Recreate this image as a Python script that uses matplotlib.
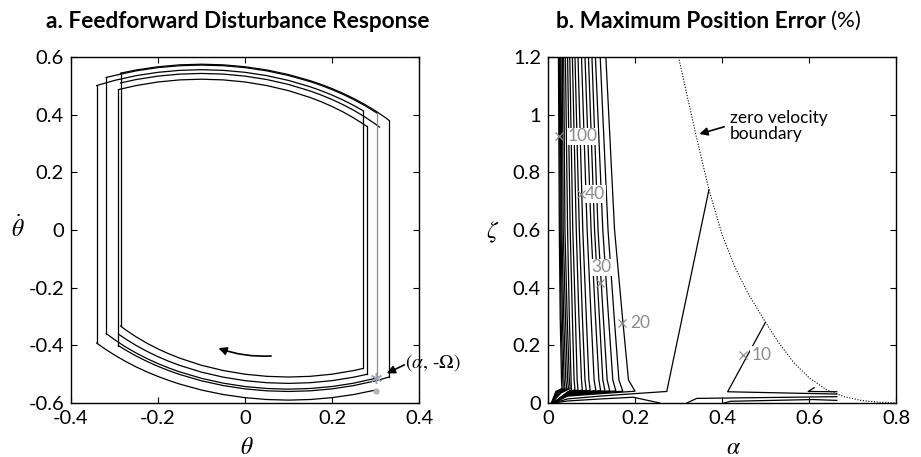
import matplotlib
matplotlib.use("Agg")
import matplotlib.pyplot as plt

plt.rcParams['font.family'] = ['Lato', 'DejaVu Sans']
plt.rcParams['mathtext.fontset'] = 'stix'
plt.rcParams['axes.unicode_minus'] = False

# ---------------- panel a data: phase-plane trajectory pieces ----------------
top_theta_mid = [-0.25, -0.2, -0.15, -0.1, -0.05, 0.0, 0.05, 0.1, 0.15, 0.175, 0.2, 0.225, 0.25]

t1_theta = [-0.286] + top_theta_mid + [0.275, 0.3, 0.325, 0.332]
t1_rate = [0.544, 0.5551, 0.5662, 0.5728, 0.575, 0.5728, 0.5662, 0.5551, 0.5391, 0.5178,
           0.5050, 0.4905, 0.4743, 0.4562, 0.4359, 0.4131, 0.3873, 0.379]
t2_theta = [-0.319, -0.3] + top_theta_mid + [0.275, 0.3, 0.303]
t2_rate = [0.529, 0.5359, 0.5520, 0.5632, 0.5698, 0.572, 0.5698, 0.5632, 0.5520, 0.5359,
           0.5145, 0.5016, 0.4870, 0.4707, 0.4524, 0.4319, 0.4089, 0.406]
t3_theta = [-0.341, -0.3] + top_theta_mid + [0.272]
t3_rate = [0.501, 0.5188, 0.5354, 0.5469, 0.5537, 0.556, 0.5537, 0.5469, 0.5354, 0.5188,
           0.4966, 0.4832, 0.4681, 0.4511, 0.4320, 0.4132]
t4_theta = [-0.286] + top_theta_mid + [0.275, 0.3, 0.309]
t4_rate = [0.510, 0.5219, 0.5337, 0.5407, 0.543, 0.5407, 0.5337, 0.5219, 0.5048, 0.4820,
           0.4682, 0.4526, 0.4350, 0.4152, 0.3927, 0.3672, 0.357]
t5_theta = [-0.291] + top_theta_mid + [0.275, 0.280]
t5_rate = [0.487, 0.5010, 0.5134, 0.5206, 0.523, 0.5206, 0.5134, 0.5010, 0.4833, 0.4594,
           0.4449, 0.4284, 0.4098, 0.3886, 0.3646, 0.3594]

bot_theta_mid = [-0.275, -0.25, -0.225, -0.2, -0.175, -0.15, -0.1, -0.05, 0.0, 0.05, 0.1, 0.15, 0.2, 0.25]

b1_theta = [-0.286] + bot_theta_mid + [0.272]
b1_rate = [-0.333, -0.3457, -0.3709, -0.3930, -0.4124, -0.4295, -0.4445, -0.4692, -0.4874,
           -0.5001, -0.5075, -0.510, -0.5075, -0.5001, -0.4874, -0.4801]
b2_theta = [-0.291] + bot_theta_mid + [0.280]
b2_rate = [-0.361, -0.3774, -0.4007, -0.4212, -0.4394, -0.4554, -0.4696, -0.4930, -0.5104,
           -0.5225, -0.5296, -0.532, -0.5296, -0.5225, -0.5104, -0.5006]
b3_theta = [-0.319, -0.3] + bot_theta_mid + [0.303]
b3_rate = [-0.359, -0.3804, -0.4051, -0.4269, -0.4462, -0.4634, -0.4786, -0.4921, -0.5145,
           -0.5312, -0.5429, -0.5497, -0.552, -0.5497, -0.5429, -0.5312, -0.5133]
b4_theta = [-0.291] + bot_theta_mid + [0.3, 0.332]
b4_rate = [-0.401, -0.4159, -0.4372, -0.4560, -0.4729, -0.4878, -0.5011, -0.5231, -0.5395,
           -0.5510, -0.5578, -0.560, -0.5578, -0.5510, -0.5395, -0.5231, -0.5097]
b5_theta = [-0.341, -0.325, -0.3] + bot_theta_mid + [0.3]
b5_rate = [-0.392, -0.4092, -0.4337, -0.4555, -0.4750, -0.4924, -0.5080, -0.5220, -0.5344,
           -0.5551, -0.5706, -0.5815, -0.5879, -0.590, -0.5879, -0.5815, -0.5706, -0.5551]

jump_left_theta = [-0.341, -0.319, -0.291, -0.286]
jump_left_low = [-0.392, -0.359, -0.401, -0.333]
jump_left_high = [0.501, 0.529, 0.487, 0.544]
jump_right_theta = [0.272, 0.280, 0.303, 0.332]
jump_right_high = [0.413, 0.359, 0.406, 0.379]
jump_right_low = [-0.480, -0.501, -0.513, -0.510]
jump_right_gray = [False, False, True, False]

start_point = (0.300, -0.512)
end_point = (0.300, -0.558)

a_xticks = [-0.4, -0.2, 0, 0.2, 0.4]
a_xlabels = ['-0.4', '-0.2', '0', '0.2', '0.4']
a_yticks = [-0.6, -0.4, -0.2, 0, 0.2, 0.4, 0.6]
a_ylabels = ['-0.6', '-0.4', '-0.2', '0', '0.2', '0.4', '0.6']

# ---------------- panel b data: contour lines of max position error ----------------
band_top = [0.024, 0.026, 0.028, 0.030, 0.033, 0.036]
band_06 = [0.026, 0.028, 0.030, 0.032, 0.035, 0.039]
band_03 = [0.028, 0.030, 0.033, 0.036, 0.040, 0.044]
band_008 = [0.031, 0.034, 0.037, 0.041, 0.045, 0.049]
band_knee = [0.032, 0.035, 0.039, 0.043, 0.047, 0.051]
band_tail_a = [0.018, 0.020, 0.022, 0.025, 0.028, 0.030]
band_tail_z = [0.040, 0.039, 0.038, 0.037, 0.036, 0.035]

fan_top = [0.040, 0.045, 0.050, 0.056, 0.062, 0.069, 0.077, 0.085, 0.093, 0.101, 0.109, 0.120, 0.133]
fan_06 = [0.045, 0.051, 0.057, 0.065, 0.072, 0.080, 0.090, 0.099, 0.107, 0.115, 0.126, 0.138, 0.153]
fan_03 = [0.049, 0.056, 0.063, 0.071, 0.079, 0.088, 0.099, 0.109, 0.118, 0.127, 0.139, 0.152, 0.171]
fan_008 = [0.053, 0.060, 0.067, 0.077, 0.085, 0.094, 0.106, 0.117, 0.126, 0.136, 0.149, 0.163, 0.185]
fan_knee = [0.054, 0.062, 0.069, 0.079, 0.088, 0.097, 0.110, 0.121, 0.131, 0.142, 0.156, 0.172, 0.200]
fan_knee_z = [0.046, 0.046, 0.045, 0.045, 0.044, 0.044, 0.043, 0.043, 0.042, 0.042, 0.042, 0.041, 0.041]
fan_tail_z = [0.038, 0.037, 0.036, 0.035, 0.034, 0.033, 0.032, 0.031, 0.030, 0.029, 0.028, 0.026, 0.024]
tail_alpha = 0.045
origin_pt = (0.012, 0.0)

extra_alpha = [
    [0.370, 0.273, 0.204, 0.120, 0.045, 0.012],
    [0.257, 0.196, 0.120, 0.045, 0.012],
    [0.500, 0.413, 0.664],
    [0.319, 0.342, 0.664],
    [0.405, 0.420, 0.610, 0.664],
    [0.612, 0.598, 0.664],
]
extra_zeta = [
    [0.740, 0.040, 0.033, 0.024, 0.014, 0.0],
    [0.0, 0.020, 0.014, 0.007, 0.0],
    [0.280, 0.039, 0.031],
    [0.0, 0.016, 0.022],
    [0.0, 0.006, 0.012, 0.009],
    [0.053, 0.040, 0.039],
]

boundary_alpha = [0.300, 0.340, 0.370, 0.400, 0.430, 0.460, 0.500, 0.530, 0.565, 0.600, 0.640, 0.680, 0.720, 0.760, 0.800]
boundary_zeta = [1.200, 0.930, 0.740, 0.585, 0.470, 0.380, 0.280, 0.210, 0.140, 0.088, 0.046, 0.022, 0.009, 0.003, 0.000]

clabel_text = ['100', '40', '30', '20', '10']
clabel_mark = [(0.026, 0.925), (0.075, 0.725), (0.1195, 0.415), (0.171, 0.279), (0.449, 0.166)]
clabel_pos = [(0.045, 0.925), (0.085, 0.725), (0.100, 0.470), (0.188, 0.279), (0.467, 0.166)]

b_xticks = [0, 0.2, 0.4, 0.6, 0.8]
b_xlabels = ['0', '0.2', '0.4', '0.6', '0.8']
b_yticks = [0, 0.2, 0.4, 0.6, 0.8, 1.0, 1.2]
b_ylabels = ['0', '0.2', '0.4', '0.6', '0.8', '1', '1.2']

# ---------------- figure ----------------
W, H = 921, 457
fig = plt.figure(figsize=(W / 100, H / 100), dpi=100)
ax1 = fig.add_axes([71 / W, 1 - 403 / H, 348 / W, 346 / H])
ax2 = fig.add_axes([548 / W, 1 - 403 / H, 348 / W, 346 / H])

LW = 0.9
for th, r in [(t1_theta, t1_rate), (t2_theta, t2_rate), (t3_theta, t3_rate),
              (t4_theta, t4_rate), (t5_theta, t5_rate),
              (b1_theta, b1_rate), (b2_theta, b2_rate), (b3_theta, b3_rate),
              (b4_theta, b4_rate), (b5_theta, b5_rate)]:
    ax1.plot(th, r, color='black', lw=LW)
for th, lo, hi in zip(jump_left_theta, jump_left_low, jump_left_high):
    ax1.plot([th, th], [lo, hi], color='black', lw=LW)
for th, hi, lo, g in zip(jump_right_theta, jump_right_high, jump_right_low, jump_right_gray):
    ax1.plot([th, th], [hi, lo], color='#8a8a8a' if g else 'black', lw=LW)

ax1.plot(*end_point, 'o', color='#b4b4b4', ms=4.5, mec='none')
ax1.plot(*start_point, marker=(6, 2, 0), color='#a0a0b8', ms=8, mew=1.0)

ax1.annotate('', xy=(-0.061, -0.410), xytext=(0.060, -0.437),
             arrowprops=dict(arrowstyle='-|>', color='black', lw=1.2,
                             mutation_scale=12, connectionstyle='arc3,rad=-0.1',
                             shrinkA=0, shrinkB=0))
ax1.annotate('', xy=(0.326, -0.497), xytext=(0.366, -0.468),
             arrowprops=dict(arrowstyle='-|>', color='black', lw=1.2,
                             mutation_scale=12, shrinkA=0, shrinkB=0))
ax1.text(0.368, -0.46, r'($\alpha$, -Ω)', fontsize=14, family='STIXGeneral',
         ha='left', va='center', clip_on=False)

ax1.set_xlim(-0.4, 0.4)
ax1.set_ylim(-0.6, 0.6)
ax1.set_xticks(a_xticks)
ax1.set_xticklabels(a_xlabels)
ax1.set_yticks(a_yticks)
ax1.set_yticklabels(a_ylabels)

# panel b
for i in range(len(band_top)):
    ax2.plot([band_top[i], band_06[i], band_03[i], band_008[i], band_knee[i], band_tail_a[i], origin_pt[0] - 0.004],
             [1.2, 0.6, 0.3, 0.08, 0.05, band_tail_z[i], origin_pt[1]], color='black', lw=0.9)
for i in range(len(fan_top)):
    ax2.plot([fan_top[i], fan_06[i], fan_03[i], fan_008[i], fan_knee[i], tail_alpha, origin_pt[0]],
             [1.2, 0.6, 0.3, 0.08, fan_knee_z[i], fan_tail_z[i], origin_pt[1]], color='black', lw=0.9)
for xa, za in zip(extra_alpha, extra_zeta):
    ax2.plot(xa, za, color='black', lw=0.9)
ax2.plot(boundary_alpha, boundary_zeta, color='black', lw=0.8, ls=(0, (1, 1.5)))

for txt, mk, pos in zip(clabel_text, clabel_mark, clabel_pos):
    ax2.text(pos[0], pos[1], txt, color='#8c8c8c', fontsize=12.5, ha='left', va='center',
             bbox=dict(facecolor='white', edgecolor='none', pad=0.5), zorder=4)
    ax2.plot(*mk, marker='x', color='#8c8c8c', ms=6, mew=0.9, zorder=5)

ax2.annotate('', xy=(0.348, 0.933), xytext=(0.405, 0.958),
             arrowprops=dict(arrowstyle='-|>', color='black', lw=1.2,
                             mutation_scale=12, shrinkA=0, shrinkB=0))
ax2.text(0.418, 0.962, 'zero velocity\nboundary', fontsize=12.5, ha='left', va='center',
         linespacing=1.0)

ax2.set_xlim(0, 0.8)
ax2.set_ylim(0, 1.2)
ax2.set_xticks(b_xticks)
ax2.set_xticklabels(b_xlabels)
ax2.set_yticks(b_yticks)
ax2.set_yticklabels(b_ylabels)

for ax in (ax1, ax2):
    ax.tick_params(direction='in', top=True, right=True, length=4, width=0.8,
                   labelsize=14.5, pad=5)
    for s in ax.spines.values():
        s.set_linewidth(1.0)

# labels and titles
fig.text(246.7 / W, 1 - 448 / H, r'$\theta$', fontsize=17, ha='center', va='center')
fig.text(18 / W, 1 - 228 / H, r'$\dot{\theta}$', fontsize=17, ha='center', va='center')
fig.text(733 / W, 1 - 448 / H, r'$\alpha$', fontsize=17, ha='center', va='center')
fig.text(493 / W, 1 - 232 / H, r'$\zeta$', fontsize=17, ha='center', va='center')

fig.text(238 / W, 1 - 21 / H, 'a. Feedforward Disturbance Response', fontsize=16.3,
         fontweight='bold', ha='center', va='center')
fig.text(826 / W, 1 - 21 / H, 'b. Maximum Position Error', fontsize=16.3,
         fontweight='bold', ha='right', va='center')
fig.text(831 / W, 1 - 21 / H, '(%)', fontsize=16, ha='left', va='center')

fig.savefig('out.png', dpi=100)
